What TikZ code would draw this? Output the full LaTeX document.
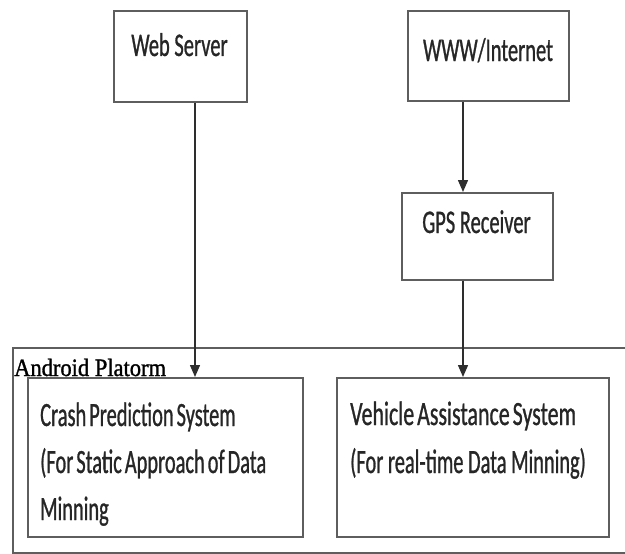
\documentclass[tikz,border=0pt]{standalone}
\usepackage{fontspec}
\setmainfont{Liberation Serif}
\newfontfamily\calib[FakeStretch=0.62,FakeBold=0.8]{Carlito}
\newfontfamily\calibn[FakeStretch=0.60,FakeBold=0.8]{Carlito}
\newfontfamily\calibw[FakeStretch=0.645,FakeBold=0.8]{Carlito}
\newfontfamily\timesn[FakeStretch=0.9,FakeBold=1.2]{Liberation Serif}
\newcommand\tightsp{\spaceskip=3pt plus 1pt\relax}
\usetikzlibrary{arrows.meta}
\definecolor{boxgray}{HTML}{5E5E5E}
\definecolor{linegray}{HTML}{2E2E2E}
\definecolor{txt}{HTML}{262626}
\begin{document}
\begin{tikzpicture}[x=1pt,y=-1pt,
  box/.style={draw=boxgray, line width=1.5pt, anchor=north west, inner sep=0pt},
  toplbl/.style={font=\calib\fontsize{33}{33}\selectfont, text=txt, inner sep=0pt, anchor=base},
  lowlbl/.style={font=\calibn\fontsize{34}{34}\selectfont, text=txt, inner sep=0pt, anchor=base west},
  conn/.style={draw=linegray, line width=1.4pt, -{Triangle[length=12pt,width=10pt]}}]
\useasboundingbox (0,0) rectangle (625,554);
% outer Android platform frame
\draw[draw=boxgray, line width=1.4pt] (625,348) -- (13,348) -- (13,553) -- (625,553);
\node[font=\timesn\fontsize{25}{25}\selectfont, text=black, inner sep=0pt, anchor=base west] (andlbl) at (14,376) {Android Platorm};
% boxes
\node[box, minimum width=133pt, minimum height=91pt] (ws) at (113,10) {};
\node[box, minimum width=161pt, minimum height=90pt] (www) at (407,10) {};
\node[box, minimum width=151pt, minimum height=87pt] (gps) at (401,192) {};
\node[box, minimum width=275pt, minimum height=159pt] (crash) at (27,377) {};
\node[box, minimum width=272pt, minimum height=159pt] (veh) at (336,377) {};
% labels
\node[toplbl] (wst) at (179.5,56) {Web Server};
\node[toplbl] (wwwt) at (488,61) {WWW/Internet};
\node[toplbl] (gpst) at (476.5,233) {GPS Receiver};
\node[lowlbl] (c1) at (40,426) {\tightsp Crash Prediction System};
\node[lowlbl] (c2) at (40,473) {\tightsp (For Static Approach of Data};
\node[lowlbl] (c3) at (40,520) {Minning};
\node[lowlbl, font=\calibw\fontsize{34}{34}\selectfont] (v1) at (350,425) {\tightsp Vehicle Assistance System};
\node[lowlbl] (v2) at (350,473) {(For real-time Data Minning)};
% connectors
\coordinate (xa) at (195,0);
\coordinate (xb) at (463,0);
\draw[conn] (ws.south -| xa) -- (crash.north -| xa);
\draw[conn] (www.south -| xb) -- (gps.north -| xb);
\draw[conn] (gps.south -| xb) -- (veh.north -| xb);
\end{tikzpicture}
\end{document}
